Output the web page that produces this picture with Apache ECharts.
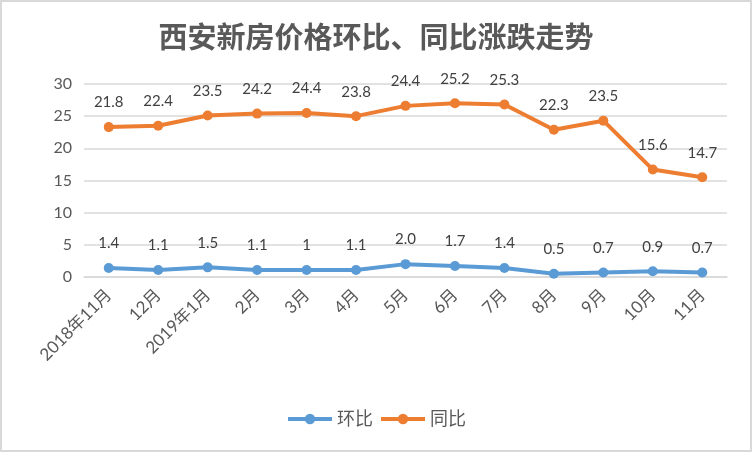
<!DOCTYPE html>
<html lang="zh">

<head>
  <meta charset="UTF-8">
  <title>西安新房价格环比、同比涨跌走势</title>
  <script src="https://cdn.jsdelivr.net/npm/echarts@6/dist/echarts.min.js"></script>
  <style>
    html, body { margin: 0; padding: 0; background: #fff; }
    #chart {
      width: 752px;
      height: 452px;
      box-sizing: border-box;
      border: 2px solid #d9d9d9;
    }
  </style>
</head>

<body>
  <div id="chart"></div>
  <script>
    // categories
    const months = ['2018年11月', '12月', '2019年1月', '2月', '3月', '4月', '5月', '6月', '7月', '8月', '9月', '10月', '11月'];

    // 环比 (month on month)
    const momValues = [1.4, 1.1, 1.5, 1.1, 1.1, 1.1, 2.0, 1.7, 1.4, 0.5, 0.7, 0.9, 0.7];
    const momLabels = ['1.4', '1.1', '1.5', '1.1', '1', '1.1', '2.0', '1.7', '1.4', '0.5', '0.7', '0.9', '0.7'];

    // 同比 (year on year) - plotted points sit higher than their printed labels in the source
    const yoyValues = [23.3, 23.5, 25.1, 25.4, 25.5, 25.0, 26.6, 27.0, 26.8, 22.9, 24.3, 16.7, 15.5];
    const yoyLabels = ['21.8', '22.4', '23.5', '24.2', '24.4', '23.8', '24.4', '25.2', '25.3', '22.3', '23.5', '15.6', '14.7'];

    const yTicks = [0, 5, 10, 15, 20, 25, 30];

    const font = 'Lato, "Noto Sans CJK SC", sans-serif';

    let myChart = echarts.init(document.getElementById('chart'));

    function lineSeries(name, values, labels, color) {
      return {
        name: name,
        type: 'line',
        data: values,
        symbol: 'circle',
        symbolSize: 10,
        lineStyle: { width: 4, color: color },
        itemStyle: { color: color },
        label: {
          show: true,
          position: 'top',
          distance: 12,
          fontSize: 15,
          fontFamily: font,
          color: '#404040',
          formatter: function (p) { return labels[p.dataIndex]; }
        },
        emphasis: { disabled: true },
        animation: false
      };
    }

    let option = {
      title: {
        text: '西安新房价格环比、同比涨跌走势',
        left: 'center',
        top: 15,
        textStyle: {
          fontSize: 29,
          fontWeight: 'bold',
          color: '#595959',
          fontFamily: '"Noto Sans CJK SC", sans-serif'
        }
      },
      legend: {
        bottom: 17,
        left: 'center',
        itemWidth: 44,
        itemHeight: 13,
        itemGap: 6,
        lineStyle: { width: 4 },
        textStyle: { fontSize: 18, color: '#595959', fontFamily: font },
        data: ['环比', '同比']
      },
      grid: {
        left: 82,
        right: 23,
        top: 82,
        bottom: 173
      },
      xAxis: {
        type: 'category',
        data: months,
        axisLine: { lineStyle: { color: '#d9d9d9', width: 1.5 } },
        axisTick: { show: false },
        axisLabel: {
          rotate: 45,
          margin: 15,
          fontSize: 17,
          color: '#595959',
          fontFamily: font,
          interval: 0
        }
      },
      yAxis: {
        type: 'value',
        min: yTicks[0],
        max: yTicks[yTicks.length - 1],
        interval: 5,
        axisLine: { show: false },
        axisTick: { show: false },
        splitLine: { lineStyle: { color: '#d9d9d9', width: 1.5 } },
        axisLabel: {
          margin: 12,
          fontSize: 16,
          color: '#595959',
          fontFamily: font
        }
      },
      series: [
        lineSeries('环比', momValues, momLabels, '#5b9bd5'),
        lineSeries('同比', yoyValues, yoyLabels, '#ed7d31')
      ]
    };

    myChart.setOption(option);
  </script>
</body>

</html>
